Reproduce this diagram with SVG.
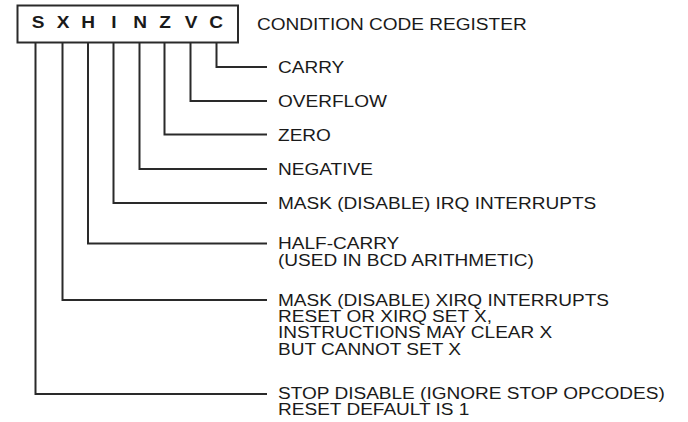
<svg xmlns="http://www.w3.org/2000/svg" width="688" height="422" viewBox="0 0 688 422">
<style>
.bg{fill:#ffffff}
.box{fill:#ffffff;stroke:#2a2a2a;stroke-width:2}
.bit{font-family:"Liberation Sans",Arial,sans-serif;font-size:16px;font-weight:bold;fill:#1a1a1a;text-anchor:middle}
.lbl{font-family:"Liberation Sans",Arial,sans-serif;font-size:16px;fill:#1a1a1a}
.wire{fill:none;stroke:#2a2a2a;stroke-width:2;stroke-linejoin:miter}
</style>
<rect class="bg" x="0" y="0" width="688" height="422"/>
<g id="register">
<rect class="box" x="17.5" y="5.5" width="220.5" height="37"/>
<text class="bit" transform="translate(38,28) scale(1.19,1)">S</text>
<text class="bit" transform="translate(63,28) scale(1.19,1)">X</text>
<text class="bit" transform="translate(88,28) scale(1.19,1)">H</text>
<text class="bit" transform="translate(114,28) scale(1.19,1)">I</text>
<text class="bit" transform="translate(140,28) scale(1.19,1)">N</text>
<text class="bit" transform="translate(165,28) scale(1.19,1)">Z</text>
<text class="bit" transform="translate(191,28) scale(1.19,1)">V</text>
<text class="bit" transform="translate(216,28) scale(1.19,1)">C</text>
</g>
<g id="title"><text class="lbl" transform="translate(257,30) scale(1.19,1)">CONDITION CODE REGISTER</text></g>
<g id="connectors">
<polyline class="wire" points="216.5,43 216.5,67 267,67"/>
<polyline class="wire" points="190.5,43 190.5,101 267,101"/>
<polyline class="wire" points="164.5,43 164.5,134.5 267,134.5"/>
<polyline class="wire" points="139.5,43 139.5,169 267,169"/>
<polyline class="wire" points="113.5,43 113.5,203 267,203"/>
<polyline class="wire" points="88,43 88,243.5 267,243.5"/>
<polyline class="wire" points="62.5,43 62.5,300 267,300"/>
<polyline class="wire" points="35.5,43 35.5,394 267,394"/>
</g>
<g id="carry"><text class="lbl" transform="translate(278,73) scale(1.19,1)">CARRY</text></g>
<g id="overflow"><text class="lbl" transform="translate(278,107) scale(1.19,1)">OVERFLOW</text></g>
<g id="zero"><text class="lbl" transform="translate(278,140.5) scale(1.19,1)">ZERO</text></g>
<g id="negative"><text class="lbl" transform="translate(278,175) scale(1.19,1)">NEGATIVE</text></g>
<g id="irq"><text class="lbl" transform="translate(278,209) scale(1.19,1)">MASK (DISABLE) IRQ INTERRUPTS</text></g>
<g id="halfcarry"><text class="lbl" transform="translate(278,249) scale(1.19,1)"><tspan x="0" y="0">HALF-CARRY</tspan><tspan x="0" y="17">(USED IN BCD ARITHMETIC)</tspan></text></g>
<g id="xirq"><text class="lbl" transform="translate(278,306) scale(1.19,1)"><tspan x="0" y="0">MASK (DISABLE) XIRQ INTERRUPTS</tspan><tspan x="0" y="16.2">RESET OR XIRQ SET X,</tspan><tspan x="0" y="32.4">INSTRUCTIONS MAY CLEAR X</tspan><tspan x="0" y="48.6">BUT CANNOT SET X</tspan></text></g>
<g id="stop"><text class="lbl" transform="translate(278,399) scale(1.19,1)"><tspan x="0" y="0">STOP DISABLE (IGNORE STOP OPCODES)</tspan><tspan x="0" y="16.2">RESET DEFAULT IS 1</tspan></text></g>
</svg>
